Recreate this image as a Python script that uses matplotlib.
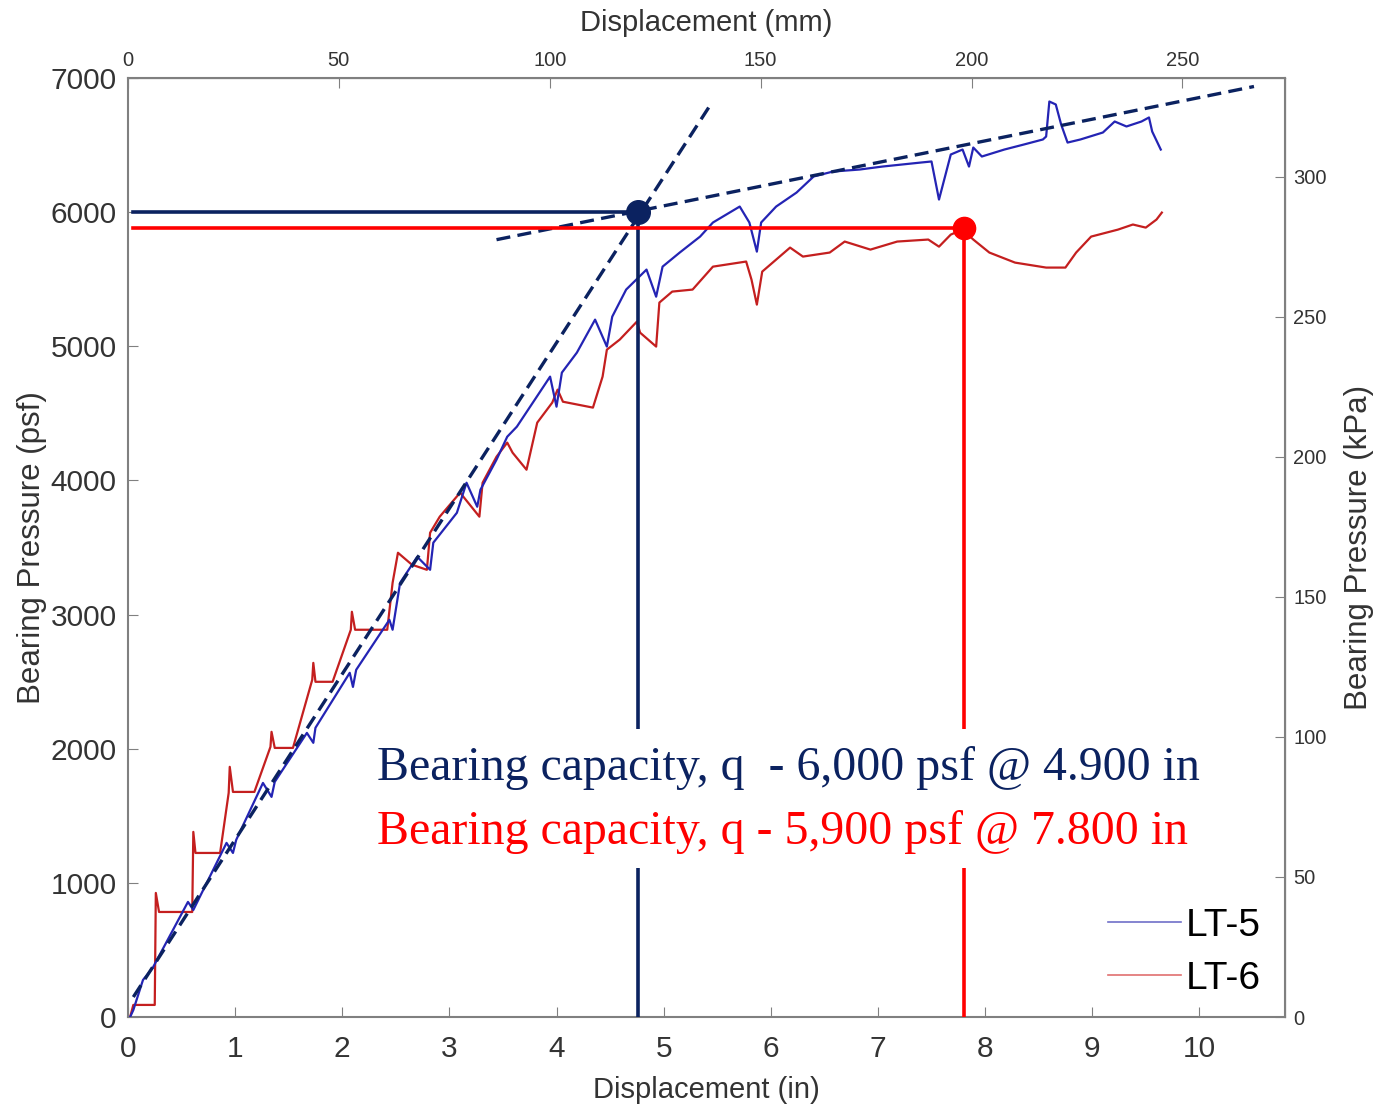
import matplotlib
matplotlib.use('Agg')
import matplotlib.pyplot as plt

plt.rcParams['font.family'] = ['Liberation Sans', 'DejaVu Sans']

# LT-5 (blue) displacement in inches, bearing pressure in psf
lt5_x = [0.02, 0.05, 0.14, 0.23, 0.56, 0.58, 0.61, 0.92, 0.98, 1.01, 1.26, 1.34, 1.37,
         1.67, 1.73, 1.75, 2.07, 2.10, 2.13, 2.44, 2.47, 2.54, 2.70, 2.82, 2.85, 3.07,
         3.16, 3.26, 3.29, 3.44, 3.54, 3.63, 3.94, 4.00, 4.05, 4.19, 4.36, 4.47, 4.52,
         4.65, 4.84, 4.93, 4.99, 5.15, 5.34, 5.46, 5.71, 5.80, 5.87, 5.91, 6.05, 6.24,
         6.40, 6.58, 6.83, 7.04, 7.40, 7.50, 7.57, 7.68, 7.79, 7.85, 7.89, 7.97, 8.18,
         8.36, 8.54, 8.57, 8.60, 8.66, 8.71, 8.77, 8.89, 9.10, 9.21, 9.32, 9.46, 9.53,
         9.56, 9.64]
lt5_y = [0, 52, 276, 365, 858, 835, 798, 1298, 1223, 1320, 1745, 1641, 1753,
         2118, 2044, 2156, 2566, 2461, 2588, 2961, 2887, 3237, 3431, 3334, 3536, 3759,
         3983, 3804, 3931, 4155, 4326, 4401, 4774, 4550, 4804, 4953, 5199, 4998, 5221,
         5423, 5572, 5370, 5594, 5699, 5818, 5923, 6042, 5923, 5706, 5923, 6042, 6146,
         6266, 6303, 6318, 6340, 6370, 6378, 6094, 6430, 6467, 6340, 6482, 6415, 6467,
         6504, 6542, 6564, 6825, 6803, 6654, 6519, 6542, 6594, 6676, 6639, 6676, 6706,
         6601, 6467]

# LT-6 (red)
lt6_x = [0.02, 0.05, 0.25, 0.26, 0.29, 0.60, 0.61, 0.63, 0.86, 0.94, 0.95, 0.98, 1.18,
         1.33, 1.34, 1.37, 1.54, 1.72, 1.73, 1.75, 1.91, 2.08, 2.09, 2.12, 2.42, 2.47,
         2.52, 2.65, 2.79, 2.82, 2.91, 3.10, 3.28, 3.31, 3.44, 3.54, 3.59, 3.72, 3.82,
         3.96, 4.01, 4.06, 4.34, 4.43, 4.47, 4.59, 4.75, 4.78, 4.93, 4.96, 5.08, 5.27,
         5.46, 5.77, 5.82, 5.87, 5.92, 6.18, 6.30, 6.55, 6.69, 6.93, 7.18, 7.47, 7.57,
         7.68, 7.79, 7.89, 8.04, 8.28, 8.57, 8.75, 8.85, 8.99, 9.24, 9.38, 9.50, 9.60,
         9.65]
lt6_y = [0, 90, 90, 925, 783, 783, 1380, 1223, 1223, 1671, 1865, 1678, 1678,
         2014, 2126, 2006, 2006, 2514, 2640, 2499, 2499, 2887, 3021, 2887, 2887, 3237,
         3461, 3372, 3334, 3610, 3730, 3909, 3730, 3983, 4177, 4282, 4207, 4080, 4431,
         4580, 4677, 4587, 4543, 4774, 4975, 5050, 5184, 5102, 4998, 5326, 5408, 5423,
         5594, 5632, 5497, 5311, 5557, 5736, 5669, 5699, 5781, 5721, 5781, 5796, 5743,
         5833, 5870, 5796, 5699, 5624, 5587, 5587, 5699, 5818, 5870, 5908, 5885, 5945,
         5997]

# tangent lines (dashed)
tan1_x = [0.05, 5.45]
tan1_y = [149, 6817]
tan2_x = [3.44, 10.51]
tan2_y = [5795, 6937]

# picked capacities
cap5 = (4.76, 6000)
cap6 = (7.80, 5885)

navy = '#0b2260'
red = '#ff0000'
grey_txt = '#333333'

fig = plt.figure(figsize=(13.76, 11.07), dpi=100)
ax = fig.add_axes([0.0930, 0.0813, 0.8409, 0.8482])

ax.plot(lt5_x, lt5_y, color='#2424b4', lw=1.6, label='LT-5', zorder=3)
ax.plot(lt6_x, lt6_y, color='#c41f1f', lw=1.6, label='LT-6', zorder=2)

ax.plot(tan1_x, tan1_y, color=navy, lw=2.4, dashes=(4.2, 2.2), zorder=4)
ax.plot(tan2_x, tan2_y, color=navy, lw=2.4, dashes=(4.2, 2.2), zorder=4)

ax.plot([0.05, cap5[0]], [cap5[1], cap5[1]], color=navy, lw=2.6, zorder=5)
ax.plot([cap5[0], cap5[0]], [0, cap5[1]], color=navy, lw=2.6, zorder=5)
ax.plot([0.05, cap6[0]], [cap6[1], cap6[1]], color=red, lw=2.6, zorder=5)
ax.plot([cap6[0], cap6[0]], [0, cap6[1]], color=red, lw=2.6, zorder=5)
ax.plot(cap5[0], cap5[1], 'o', color=navy, ms=17, zorder=6)
ax.plot(cap6[0], cap6[1], 'o', color=red, ms=16, zorder=6)

ax.set_xlim(0, 10.8)
ax.set_ylim(0, 7000)
ax.set_xticks(range(0, 11))
ax.set_yticks(range(0, 7001, 1000))
ax.set_xlabel('Displacement (in)', fontsize=21, color=grey_txt, labelpad=9)
ax.set_ylabel('Bearing Pressure (psf)', fontsize=22.5, color=grey_txt, labelpad=3)
ax.tick_params(direction='in', length=7, color='#808080', labelcolor=grey_txt,
               labelsize=21.5, pad=8)
ax.tick_params(axis='x', pad=13)
for s in ax.spines.values():
    s.set_color('#808080')
    s.set_linewidth(1.5)

top = ax.secondary_xaxis('top', functions=(lambda v: v * 25.4, lambda v: v / 25.4))
top.set_xticks(range(0, 251, 50))
top.set_xlabel('Displacement (mm)', fontsize=21, color=grey_txt, labelpad=14)
top.tick_params(direction='in', length=7, color='#808080', labelcolor=grey_txt,
                labelsize=14.5, pad=6)

right = ax.secondary_yaxis('right', functions=(lambda v: v / 20.885, lambda v: v * 20.885))
right.set_yticks(range(0, 301, 50))
right.set_ylabel('Bearing Pressure (kPa)', fontsize=22.5, color=grey_txt, labelpad=12)
right.tick_params(direction='in', length=7, color='#808080', labelcolor=grey_txt,
                  labelsize=14.5, pad=6)

leg = ax.legend(loc='lower right', bbox_to_anchor=(1.009, -0.016), frameon=False,
                fontsize=28, handlelength=1.9, handletextpad=0.1, labelspacing=0.45)
for ln, c in zip(leg.get_lines(), ['#7070c8', '#e07070']):
    ln.set_color(c)
    ln.set_linewidth(1.2)

fig.text(0.274, 0.306, 'Bearing capacity, q  - 6,000 psf @ 4.900 in', color=navy,
         family='Liberation Serif', fontsize=34.5, va='center', ha='left', zorder=10,
         bbox=dict(facecolor='white', edgecolor='none', pad=12))
fig.text(0.274, 0.248, 'Bearing capacity, q - 5,900 psf @ 7.800 in', color=red,
         family='Liberation Serif', fontsize=34.5, va='center', ha='left', zorder=10,
         bbox=dict(facecolor='white', edgecolor='none', pad=10))

fig.savefig('out.png', dpi=100)
